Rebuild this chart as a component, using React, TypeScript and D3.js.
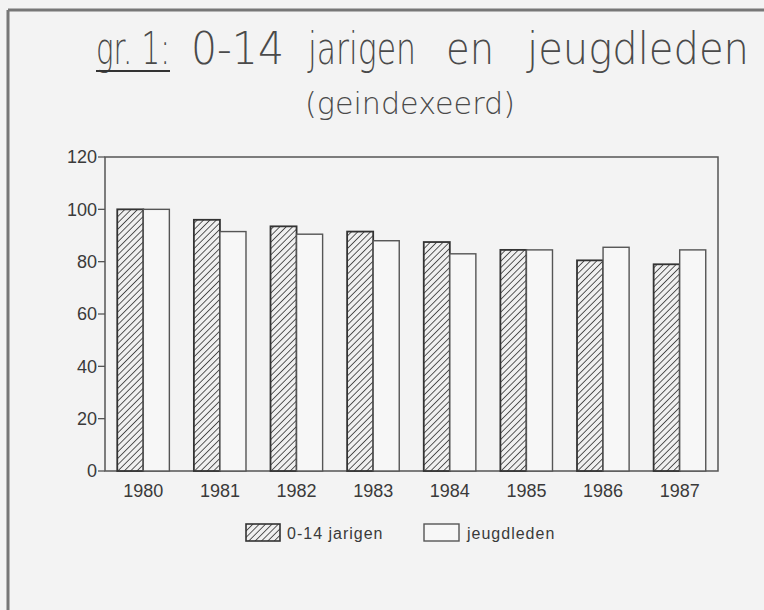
import { useMemo } from "react";
import * as d3 from "d3";

const years = ["1980", "1981", "1982", "1983", "1984", "1985", "1986", "1987"];
const series = ["0-14 jarigen", "jeugdleden"];
const jarigen = [100, 96, 93.5, 91.5, 87.5, 84.5, 80.5, 79];
const jeugdleden = [100, 91.5, 90.5, 88, 83, 84.5, 85.5, 84.5];
const yTicks = [0, 20, 40, 60, 80, 100, 120];

// title words with the span each one takes in the scan
const titleWords = [
  { t: "gr. 1:", x0: 96, x1: 170 },
  { t: "0-14", x0: 191, x1: 284 },
  { t: "jarigen", x0: 308, x1: 416 },
  { t: "en", x0: 446, x1: 494 },
  { t: "jeugdleden", x0: 527, x1: 749 },
];

const W = 764;
const H = 610;
const plot = { left: 105, right: 718, top: 157, bottom: 471 };
const ink = "#3a3a3a";
const font = "'Liberation Sans', Arial, sans-serif";
const thin = "'DejaVu Sans', sans-serif";

export default function App() {
  const x = useMemo(
    () => d3.scaleBand<string>().domain(years).range([plot.left, plot.right]).paddingInner(0.32).paddingOuter(0.16),
    []
  );
  const sub = useMemo(() => d3.scaleBand<string>().domain(series).range([0, x.bandwidth()]), [x]);
  const y = useMemo(() => d3.scaleLinear().domain([0, 120]).range([plot.bottom, plot.top]), []);

  const rows = years.map((yr, i) => ({ yr, vals: [jarigen[i], jeugdleden[i]] }));

  return (
    <div style={{ position: "absolute", left: 0, top: 0 }}>
      <svg width={W} height={H} style={{ display: "block", background: "#f3f3f3" }}>
        <defs>
          <pattern id="hatch" width="4.5" height="4.5" patternUnits="userSpaceOnUse" patternTransform="rotate(45)">
            <rect width="4.5" height="4.5" fill="#f0f0f0" />
            <line x1="0" y1="0" x2="0" y2="4.5" stroke="#333" strokeWidth="1.6" />
          </pattern>
        </defs>

        {/* outer frame of the scanned page */}
        <line x1={8} y1={10} x2={W} y2={10} stroke="#777" strokeWidth={3} />
        <line x1={8} y1={10} x2={8} y2={H} stroke="#777" strokeWidth={3} />

        {titleWords.map((w) => (
          <text key={w.t} x={w.x0} y={64} fontFamily={thin} fontWeight={200} fontSize={45} fill="#4a4a4a"
            textLength={w.x1 - w.x0} lengthAdjust="spacingAndGlyphs">
            {w.t}
          </text>
        ))}
        <line x1={titleWords[0].x0} x2={titleWords[0].x1} y1={71} y2={71} stroke="#333" strokeWidth={2.2} />
        <text x={305} y={114} fontFamily={thin} fontWeight={200} fontSize={30} fill="#4a4a4a"
          textLength={210} lengthAdjust="spacingAndGlyphs">
          (geindexeerd)
        </text>

        {/* plot frame */}
        <rect x={plot.left} y={plot.top} width={plot.right - plot.left} height={plot.bottom - plot.top}
          fill="none" stroke="#555" strokeWidth={1.5} />

        {yTicks.map((t) => (
          <g key={t}>
            <line x1={plot.left - 7} x2={plot.left} y1={y(t)} y2={y(t)} stroke="#555" strokeWidth={1.3} />
            <text x={plot.left - 8} y={y(t)} dy="0.35em" textAnchor="end" fontFamily={font} fontSize={18} fill={ink}>
              {t}
            </text>
          </g>
        ))}

        {rows.map((r) => (
          <g key={r.yr} transform={`translate(${x(r.yr)},0)`}>
            {r.vals.map((v, j) => (
              <rect key={j} x={sub(series[j])} y={y(v)} width={sub.bandwidth()} height={y(0) - y(v)}
                fill={j === 0 ? "url(#hatch)" : "#f7f7f7"} stroke={j === 0 ? "#333" : "#555"}
                strokeWidth={j === 0 ? 1.8 : 1.4} />
            ))}
            <text x={x.bandwidth() / 2} y={497} textAnchor="middle" fontFamily={font} fontSize={18} fill={ink}>
              {r.yr}
            </text>
          </g>
        ))}

        {/* legend */}
        <rect x={246} y={524} width={34} height={17} fill="url(#hatch)" stroke="#333" strokeWidth={1.6} />
        <text x={287} y={539} fontFamily={font} fontSize={16} letterSpacing={1} fill={ink}>{series[0]}</text>
        <rect x={424} y={524} width={35} height={17} fill="#f7f7f7" stroke="#555" strokeWidth={1.4} />
        <text x={467} y={539} fontFamily={font} fontSize={16} letterSpacing={1} fill={ink}>{series[1]}</text>
      </svg>
    </div>
  );
}
